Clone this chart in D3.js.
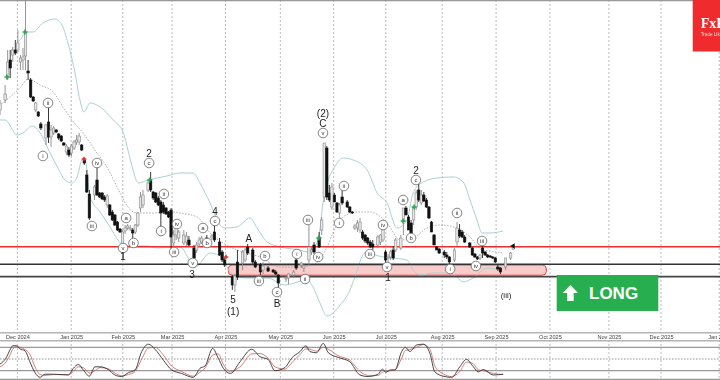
<!DOCTYPE html>
<html>
<head>
<meta charset="utf-8">
<script src="https://cdn.jsdelivr.net/npm/d3@7"></script>
<style>
html, body { margin: 0; padding: 0; background: #fff; overflow: hidden; }
#plot { display: block; filter: blur(0.35px); }
</style>
</head>
<body>
<svg id="plot"></svg>
<script>
// values. price is in the chart's own points, x in trading bars
let monthBars = [6.8, 27.9, 48.1, 67.4, 88.3, 109.8, 130.7, 151.1, 173.2, 194.3, 215.4, 238.5, 258.9, 281.7];
let monthLabels = ["Dec 2024", "Jan 2025", "Feb 2025", "Mar 2025", "Apr 2025", "May 2025", "Jun 2025", "Jul 2025",
    "Aug 2025", "Sep 2025", "Oct 2025", "Nov 2025", "Dec 2025", "Jan 2026"];

// bar, open, high, low, close
let candles = [
    [0,210,220,205,217],[2,220,235,217,226],[3,242,270,240,258],[4,260,270,242,252],[5,265,273,258,270],
    [6,270,280,265,267],[7,270,290,268,277],[8,258,265,250,262],[9,260,272,250,263],[10,264,320,250,288],
    [11,249,260,240,247],[12,240,242,222,223],[13,223,224,218,219],[14,210,218,208,217],[15,208,209,203,204],
    [16,196,198,190,192],[18,182,196,175,195],[19,198,213,177,183],[20,183,195,173,190],[21,187,194,185,192],
    [22,190,191,187,188],[23,186,187,180,182],[24,184,185,178,179],[25,177,178,174,175],[26,168,176,165,174],
    [27,170,173,163,165],[28,167,176,164,174],[29,172,180,170,178],[30,178,185,175,180],[31,178,187,175,184],
    [32,175,176,169,170],[33,160,161,155,157],[34,145,150,127,128],[35,126,130,100,102],[37,125,135,120,133],
    [38,140,153,124,125],[39,127,128,122,123],[40,127,128,120,121],[41,123,125,118,120],[42,115,126,112,124],
    [43,115,116,104,105],[44,108,110,99,100],[45,105,106,94,95],[46,98,99,89,90],[47,91,92,87,88],
    [48,75,90,60,88],[49,89,95,86,92],[50,92,96,90,94],[51,91,95,89,92],[52,90,92,77,87],
    [53,88,96,86,95],[54,95,108,93,107],[55,112,128,108,123],[56,115,130,112,125],[58,130,140,128,137],
    [59,140,148,128,130],[60,128,129,120,122],[61,127,128,117,118],[62,122,124,114,115],[63,118,120,90,107],
    [64,115,118,106,108],[65,112,113,105,106],[66,108,109,102,103],[67,110,112,70,83],[68,77,90,65,85],
    [69,85,96,80,94],[70,82,90,78,88],[72,77,90,75,85],[73,78,88,74,84],[74,80,84,74,75],
    [76,72,75,52,62],[77,70,78,67,75],[78,76,83,73,80],[79,78,84,76,82],[81,82,85,73,76],
    [83,82,86,80,84],[84,88,95,78,80],[86,78,82,64,65],[87,68,70,58,60],[88,60,62,53,55],
    [91,43,45,30,35],[92,35,46,28,44],[93,58,70,40,43],[95,57,70,50,68],[96,60,72,58,70],
    [97,73,76,65,67],[99,70,72,56,58],[100,58,60,52,53],[102,55,57,45,48],[103,50,58,46,54],
    [105,52,54,48,49],[107,50,51,47,48],[108,48,50,45,46],[109,45,46,32,37],[112,41,44,38,42],
    [113,42,47,36,46],[115,45,50,42,48],[116,60,64,50,52],[118,55,58,52,57],[119,52,56,48,54],
    [121,60,95,55,73],[122,68,74,65,70],[123,75,78,66,68],[125,83,88,72,73],[126,90,103,85,100],
    [127,123,177,118,177],[128,172,174,120,123],[129,127,135,118,120],[130,113,137,110,133],[131,125,127,118,118],
    [132,117,118,107,108],[133,107,117,98,115],[134,123,132,115,117],[136,118,120,112,113],[137,113,114,107,108],
    [138,108,109,106,107],[139,92,96,90,94],[140,92,100,88,97],[141,90,102,87,98],[142,88,90,80,82],
    [143,85,86,77,79],[144,82,83,75,77],[145,78,80,72,73],[146,76,80,70,73],[148,75,85,72,83],
    [149,78,86,75,85],[150,80,94,78,92],[151,68,70,55,60],[152,62,66,52,63],[153,63,70,60,68],
    [154,70,74,60,62],[155,70,82,68,80],[157,72,85,70,82],[158,98,112,85,112],[159,112,114,105,105],
    [160,103,105,90,90],[161,97,100,80,87],[162,100,113,95,113],[163,113,130,110,127],[164,130,137,118,120],
    [165,117,130,115,125],[166,125,128,118,119],[167,120,122,112,113],[168,113,114,101,102],[169,98,99,88,88],
    [170,85,86,75,75],[171,73,74,70,70],[172,71,72,66,67],[174,68,70,62,65],[175,65,68,61,63],
    [176,63,64,56,58],[178,60,72,58,70],[179,78,98,74,92],[180,90,96,82,84],[181,88,90,82,83],
    [182,83,85,77,78],[184,77,78,72,73],[185,72,73,64,65],[186,66,67,62,63],[187,63,64,60,61],
    [188,62,66,60,65],[189,72,74,62,67],[190,68,69,64,65],[191,65,66,62,63],[192,64,65,62,63],
    [193,63,64,61,62],[194,62,63,57,58],[195,53,55,49,51],[196,52,53,46,48],[198,53,62,50,62],
    [200,62,68,60,67],[201,71,74,70,73]
];

// bollinger bands as [bar, price]
let upperBand = [[6.7,278],[8.5,282],[9.8,288],[12.9,288],[16.8,297],[21.5,301],[24.3,295],[26.6,277],[29.4,247],[31.3,220],[32.9,208],
    [35.3,217],[39.2,213],[44.3,200],[48.2,188],[50.1,170],[52.1,150],[54.1,137],[58,140],[65.4,144],[70.5,147],
    [75.6,147],[78.3,137],[82.3,117],[86.2,95],[88.1,92],[92.8,93],[97.9,102],[100.7,92],[104.6,78],[109.7,73],
    [117.5,70],[120.6,68],[124.6,80],[126.5,117],[128.5,140],[130.4,150],[134.4,162],[138.3,160],[143.8,150],
    [147.7,127],[151.6,117],[155.5,92],[159.4,100],[161.8,127],[165.7,138],[171.2,142],[177.5,143],[181.4,138],
    [184.1,120],[186.8,100],[188.8,87],[191.9,87],[197,89]];
let midBand = [[0,215],[3.9,223],[7.8,232],[11,241],[15.7,235],[20.8,228],[24.7,213],[28.2,200],[32.5,187],[38,167],
    [41.9,153],[47,127],[50.1,113],[53.7,107],[58.8,107],[67.8,108],[70.5,107],[77.2,103],[82.3,87],[87.3,77],
    [92.8,70],[101.8,63],[109.7,53],[116.3,53],[122.6,55],[128.1,73],[130.4,87],[134.4,103],[139.8,108],[144.9,108],
    [151.6,97],[156.7,80],[161.8,82],[167.3,92],[172.3,95],[179,92],[184.1,83],[188.8,70],[191.9,69],[197,67]];
let lowerBand = [[0,200],[2,200],[6.7,185],[9,187],[12.5,194],[15.7,187],[19.6,167],[22.7,152],[25.5,140],[28.2,137],
    [30.2,143],[32.1,160],[33.3,161],[35.3,123],[39.2,108],[43.1,93],[46.2,80],[48.2,75],[52.1,74],[57.6,74],
    [61.5,72],[70.5,73],[76.4,53],[82.3,67],[87.3,62],[90.1,48],[96,42],[104.6,42],[111.6,35],[120.2,40],
    [122.6,33],[125.3,17],[128.1,4],[133.2,15],[137.1,30],[139,43],[143,67],[150,63],[159.4,60],[161.8,50],
    [164.5,45],[169.6,47],[176.3,47],[179,43],[181.4,38],[185.3,42],[190.8,52],[195.8,50]];

// stochastic panel, shared x list with %K and %D
let stochBars = [0,2.3,3.9,5,6.5,7.8,9.8,11.7,13.7,15.7,17.6,20.9,26.8,28.7,30.7,32.6,35,37.2,39.2,42.4,45,47.6,50.3,52.9,
    55.5,58.1,60.7,64,67.2,71.1,75.7,78.3,80.3,83.3,85.5,87.5,90.3,94,98.6,101.8,
    105,107.7,111.6,114.2,117.5,119.8,121.4,124,126.6,128.6,132.5,137,141,144.2,148.1,149.8,151.1,153,154.7,157.3,
    158.8,160.5,163.2,165.8,168.4,170.3,173.6,176.9,180.1,182.7,185.4,187.3,189.3,193.2,197.1];
let stochK = [37,52,73,84,84,76,71,43,15,3,11,11,9,26,36,22,6,30,30,23,9,5,15,22,69,88,75,47,22,13,3,26,32,77,52,26,13,43,75,56,
    49,20,28,52,69,84,69,66,90,66,54,43,9,5,11,24,16,22,22,69,80,69,86,88,64,17,6,3,30,49,30,17,23,9,11];
let stochD = [30,42,60,75,82,80,74,62,30,10,8,10,10,18,30,28,14,20,28,25,14,7,10,18,50,78,80,60,32,18,6,16,27,60,63,36,18,30,63,64,
    52,30,24,40,62,76,75,70,80,75,58,47,18,8,8,16,19,20,22,52,72,74,80,87,75,32,12,5,18,42,38,22,20,13,10];
let stochLevels = [20, 80];

let resistance = 73.3;
let supportHigh = 55.8;
let supportLow = 43.4;
let zoneHigh = 55;
let zoneLow = 44.8;
let zoneBars = [89.4, 214];

// wave counts: bar, price, text
let circledLabels = [[16.8,164,"i"],[18.8,217,"ii"],[38,157,"iv"],[36,94,"iii"],[48.2,72,"v"],[49.4,102,"a"],[52.3,77,"b"],
    [58.4,157,"c"],[64.2,126,"ii"],[63.1,89,"i"],[68.2,68,"iii"],[69.3,96,"iv"],[75.5,57,"v"],[79.5,92,"a"],[81.1,77,"b"],
    [84.2,99,"c"],[103.8,64,"b"],[101.4,39,"iii"],[108.5,28,"c"],[116.3,66,"i"],[119.5,41,"ii"],[120.6,100,"iii"],[124.6,63,"iv"],
    [134.7,134,"ii"],[132.8,97,"i"],[126.5,187,"v"],[144.9,66,"iii"],[150,95,"iv"],[151.6,53,"v"],[157.9,120,"a"],[161,82,"b"],
    [162.9,140,"c"],[176.3,51,"i"],[179,107,"ii"],[186.4,54,"iv"],[188.8,79,"iii"]];
let plainLabels = [[48.2,64,"1"],[58.4,167,"2"],[75.2,46,"3"],[84.2,109,"4"],[97.5,82,"A"],[91.3,21,"5"],[91.3,9,"(1)"],
    [108.5,17,"B"],[126.5,197,"C"],[126.5,207,"(2)"],[152,43,"1"],[162.9,150,"2"],[198.2,26,"(iii)"]];
let buySignals = [[2.7,243],[9.8,288],[58.6,140],[124.9,82],[157.9,99],[162.2,113]];
let sellSignals = [[32.9,161],[88.5,63]];

let width = 720;
let height = 380;

let svg = d3.select("#plot")
    .attr("width", width)
    .attr("height", height)
    .attr("font-family", "'Liberation Sans', Arial, sans-serif");

let x = d3.scaleLinear().domain([0, 282]).range([0, width]);
let y = d3.scaleLinear().domain([0, 320]).range([320, 0]);
let yStoch = d3.scaleLinear().domain([0, 100]).range([378.5, 339.5]);

// month grid runs through both panels
svg.append("g").selectAll("line")
    .data(monthBars)
    .enter().append("line")
    .attr("x1", d => x(d)).attr("x2", d => x(d))
    .attr("y1", 0).attr("y2", height)
    .attr("stroke", "#aaa")
    .attr("stroke-width", 0.8)
    .attr("stroke-dasharray", "2,2");

svg.append("line").attr("x1", 0).attr("x2", width).attr("y1", 0.5).attr("y2", 0.5)
    .attr("stroke", "#999").attr("stroke-width", 1.5);

// zone
svg.append("rect")
    .attr("x", x(zoneBars[0]))
    .attr("width", x(zoneBars[1]) - x(zoneBars[0]))
    .attr("y", y(zoneHigh))
    .attr("height", y(zoneLow) - y(zoneHigh))
    .attr("rx", 4)
    .attr("fill", "#f9cccc")
    .attr("stroke", "#ef3f3f")
    .attr("stroke-width", 1);

// bands
let bandLine = d3.line().x(d => x(d[0])).y(d => y(d[1])).curve(d3.curveMonotoneX);
svg.append("path").datum(upperBand).attr("d", bandLine)
    .attr("fill", "none").attr("stroke", "#a9d0d0").attr("stroke-width", 1);
svg.append("path").datum(lowerBand).attr("d", bandLine)
    .attr("fill", "none").attr("stroke", "#a9d0d0").attr("stroke-width", 1);
svg.append("path").datum(midBand).attr("d", bandLine)
    .attr("fill", "none").attr("stroke", "#999").attr("stroke-width", 0.8).attr("stroke-dasharray", "1.5,1.5");

// levels
svg.append("line").attr("x1", 0).attr("x2", width).attr("y1", y(resistance)).attr("y2", y(resistance))
    .attr("stroke", "#f22c2c").attr("stroke-width", 1.5);
svg.append("line").attr("x1", 0).attr("x2", width).attr("y1", y(supportHigh)).attr("y2", y(supportHigh))
    .attr("stroke", "#333").attr("stroke-width", 1.5);
svg.append("line").attr("x1", 0).attr("x2", width).attr("y1", y(supportLow)).attr("y2", y(supportLow))
    .attr("stroke", "#444").attr("stroke-width", 1.8);

// candles
let candle = svg.append("g").selectAll("g")
    .data(candles)
    .enter().append("g");

candle.append("line")
    .attr("x1", d => x(d[0])).attr("x2", d => x(d[0]))
    .attr("y1", d => y(d[2])).attr("y2", d => y(d[3]))
    .attr("stroke", d => d[4] >= d[1] ? "#888" : "#222")
    .attr("stroke-width", 0.9);

candle.append("rect")
    .attr("x", d => x(d[0]) - 1.2)
    .attr("width", 2.4)
    .attr("y", d => y(Math.max(d[1], d[4])))
    .attr("height", d => Math.max(1, Math.abs(y(d[1]) - y(d[4]))))
    .attr("fill", d => d[4] >= d[1] ? "#e6e6e6" : "#111")
    .attr("stroke", d => d[4] >= d[1] ? "#888" : "#111")
    .attr("stroke-width", 0.6);

// closing arrow on the last bar
let lastBar = candles[candles.length - 1];
svg.append("path")
    .attr("d", d3.symbol(d3.symbolTriangle, 12))
    .attr("transform", "translate(" + x(lastBar[0]) + "," + y(lastBar[2]) + ") rotate(30)")
    .attr("fill", "#111");

// signals
svg.append("g").selectAll("path")
    .data(buySignals)
    .enter().append("path")
    .attr("d", d3.symbol(d3.symbolCross, 14))
    .attr("transform", d => "translate(" + x(d[0]) + "," + y(d[1]) + ")")
    .attr("fill", "#2fa84f");
svg.append("g").selectAll("path")
    .data(sellSignals)
    .enter().append("path")
    .attr("d", d3.symbol(d3.symbolCross, 12))
    .attr("transform", d => "translate(" + x(d[0]) + "," + y(d[1]) + ")")
    .attr("fill", "#e03030");

// wave labels
let circled = svg.append("g").selectAll("g")
    .data(circledLabels)
    .enter().append("g")
    .attr("transform", d => "translate(" + x(d[0]) + "," + y(d[1]) + ")");
circled.append("circle")
    .attr("r", 4.8)
    .attr("fill", "#fff")
    .attr("stroke", "#666")
    .attr("stroke-width", 0.8);
circled.append("text")
    .attr("text-anchor", "middle")
    .attr("dy", 2)
    .attr("font-size", 6)
    .attr("fill", "#333")
    .text(d => d[2]);

svg.append("g").selectAll("text")
    .data(plainLabels)
    .enter().append("text")
    .attr("x", d => x(d[0]))
    .attr("y", d => y(d[1]))
    .attr("text-anchor", "middle")
    .attr("dy", 3.5)
    .attr("font-size", d => d[2] === "(iii)" ? 8 : 10)
    .attr("fill", "#222")
    .text(d => d[2]);

// date strip
svg.append("rect").attr("x", 0).attr("width", width).attr("y", 332.7).attr("height", 8)
    .attr("fill", "#fff").attr("fill-opacity", 0.7);
[332.7, 340.7].forEach(v => {
    svg.append("line").attr("x1", 0).attr("x2", width).attr("y1", v).attr("y2", v)
        .attr("stroke", "#b4b4b4").attr("stroke-width", 1.6);
});

let axis = d3.axisBottom(x)
    .tickValues(monthBars)
    .tickFormat((d, i) => monthLabels[i])
    .tickSize(0)
    .tickPadding(0);
let axisG = svg.append("g").attr("transform", "translate(0,335)").call(axis);
axisG.select(".domain").remove();
axisG.selectAll("text")
    .attr("font-family", "'Liberation Sans', Arial, sans-serif")
    .attr("font-size", 5.6)
    .attr("fill", "#444");

// stochastic panel
svg.append("g").selectAll("line")
    .data(stochLevels)
    .enter().append("line")
    .attr("x1", 0).attr("x2", width)
    .attr("y1", d => yStoch(d)).attr("y2", d => yStoch(d))
    .attr("stroke", "#999")
    .attr("stroke-width", 1.2);
svg.append("line").attr("x1", 0).attr("x2", width).attr("y1", yStoch(50)).attr("y2", yStoch(50))
    .attr("stroke", "#777").attr("stroke-width", 0.8).attr("stroke-dasharray", "1.5,1.5");
svg.append("line").attr("x1", 0).attr("x2", width).attr("y1", 379.4).attr("y2", 379.4)
    .attr("stroke", "#999").attr("stroke-width", 1.2);

let stochLine = d3.line()
    .x((d, i) => x(stochBars[i]))
    .y(d => yStoch(d))
    .curve(d3.curveMonotoneX);
svg.append("path").datum(stochD).attr("d", stochLine)
    .attr("fill", "none").attr("stroke", "#c9605c").attr("stroke-width", 0.8);
svg.append("path").datum(stochK).attr("d", stochLine)
    .attr("fill", "none").attr("stroke", "#333").attr("stroke-width", 0.9);

// LONG badge
let badge = svg.append("g").attr("transform", "translate(556.7,275)");
badge.append("rect").attr("width", 101.6).attr("height", 36).attr("fill", "#27ae4f");
badge.append("path")
    .attr("d", "M6,18 L13.7,10 L21.4,18 L17,18 L17,26 L10.4,26 L10.4,18 Z")
    .attr("fill", "#fff");
badge.append("text")
    .attr("x", 32.3)
    .attr("y", 24.2)
    .attr("font-size", 17)
    .attr("font-weight", "bold")
    .attr("fill", "#fff")
    .text("LONG");

// logo, runs off the right edge like the source
let logo = svg.append("g").attr("transform", "translate(692.7,0)");
logo.append("rect").attr("width", 28).attr("height", 51.5).attr("fill", "#ef2b2d");
logo.append("text")
    .attr("x", 8)
    .attr("y", 28)
    .attr("font-family", "'Liberation Serif', serif")
    .attr("font-weight", "bold")
    .attr("font-size", 14)
    .attr("fill", "#fff")
    .text("FxPro");
logo.append("text")
    .attr("x", 8)
    .attr("y", 36)
    .attr("font-size", 4.6)
    .attr("fill", "#ffd8d8")
    .text("Trade Like a Pro");
</script>
</body>
</html>
